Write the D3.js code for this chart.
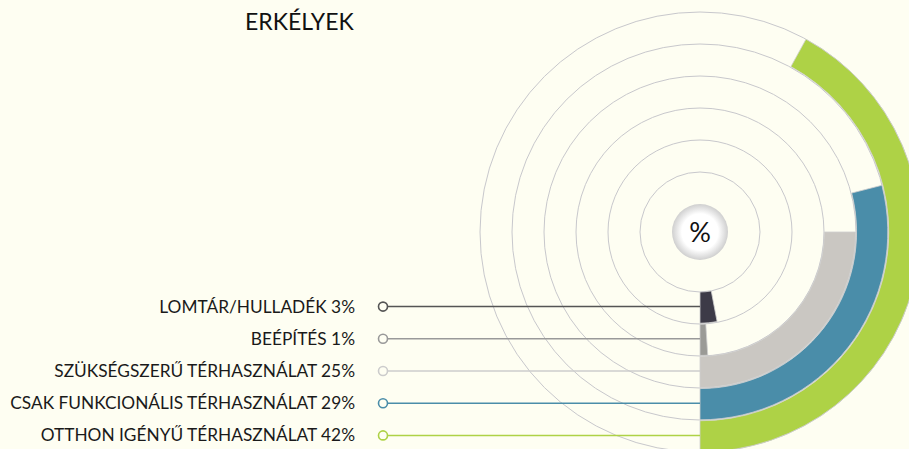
<!DOCTYPE html>
<html>
<head>
<meta charset="utf-8">
<script src="https://cdn.jsdelivr.net/npm/d3@7"></script>
<style>
  html, body { margin: 0; padding: 0; background: #fefef2; }
  svg { display: block; }
  .label { font-family: Lato, "Open Sans", sans-serif; font-size: 17.3px; fill: #1a1a1a; }
  .title { font-family: Lato, "Open Sans", sans-serif; font-size: 23px; fill: #111; }
</style>
</head>
<body>
<div id="chart"></div>
<script>
var svgWidth = 909;
var svgHeight = 449;

// data, inner ring first
var categories = ["LOMTÁR/HULLADÉK", "BEÉPÍTÉS", "SZÜKSÉGSZERŰ TÉRHASZNÁLAT",
  "CSAK FUNKCIONÁLIS TÉRHASZNÁLAT", "OTTHON IGÉNYŰ TÉRHASZNÁLAT"];
var values = [3, 1, 25, 29, 42];
var colors = ["#3d3b47", "#9a9a96", "#cac7c2", "#4a8da9", "#aed246"];
var markerColors = ["#555", "#999", "#ccc", "#4a8da9", "#aed246"];
var gridRings = [60, 92, 124, 156, 188, 220];

var cx = 700, cy = 232;

var svg = d3.select("#chart")
  .append("svg")
  .attr("width", svgWidth)
  .attr("height", svgHeight);

svg.append("rect")
  .attr("width", svgWidth)
  .attr("height", svgHeight)
  .attr("fill", "#fefef2");

var defs = svg.append("defs");
var grad = defs.append("radialGradient").attr("id", "centerGrad");
grad.append("stop").attr("offset", "65%").attr("stop-color", "#ffffff");
grad.append("stop").attr("offset", "100%").attr("stop-color", "#cfcfcf");

var chart = svg.append("g")
  .attr("transform", `translate(${cx}, ${cy})`);

// scales
var ringScale = d3.scaleBand()
  .domain(categories)
  .range([60, 220])
  .paddingInner(0.03)
  .paddingOuter(0);

var angleScale = d3.scaleLinear()
  .domain([0, 100])
  .range([Math.PI, -Math.PI]);

// grid circles
chart.selectAll(".grid")
  .data(gridRings)
  .enter()
  .append("circle")
  .attr("class", "grid")
  .attr("r", d => d)
  .attr("fill", "none")
  .attr("stroke", "#c8c8cc")
  .attr("stroke-width", 1);

// bars
var arc = d3.arc()
  .innerRadius(d => ringScale(d.cat))
  .outerRadius(d => ringScale(d.cat) + ringScale.bandwidth())
  .startAngle(d => angleScale(d.value))
  .endAngle(Math.PI);

var rows = categories.map((c, i) => ({cat: c, value: values[i], color: colors[i], marker: markerColors[i]}));

chart.selectAll(".bar")
  .data(rows)
  .enter()
  .append("path")
  .attr("class", "bar")
  .attr("d", arc)
  .attr("fill", d => d.color)
  .attr("stroke", "#cfcfcf")
  .attr("stroke-width", 0.8);

// legend lines
var yMid = d => ringScale(d.cat) + ringScale.bandwidth() / 2 - 1;
var markerX = 383 - cx;

chart.selectAll(".lead")
  .data(rows)
  .enter()
  .append("line")
  .attr("class", "lead")
  .attr("x1", markerX)
  .attr("x2", 0)
  .attr("y1", yMid)
  .attr("y2", yMid)
  .attr("stroke", d => d.marker)
  .attr("stroke-width", 1.5);

chart.selectAll(".marker")
  .data(rows)
  .enter()
  .append("circle")
  .attr("class", "marker")
  .attr("cx", markerX)
  .attr("cy", yMid)
  .attr("r", 4.5)
  .attr("fill", "#fefef2")
  .attr("stroke", d => d.marker)
  .attr("stroke-width", 1.6);

chart.selectAll(".label")
  .data(rows)
  .enter()
  .append("text")
  .attr("class", "label")
  .attr("x", 355 - cx)
  .attr("y", yMid)
  .attr("dy", "0.35em")
  .style("text-anchor", "end")
  .text(d => `${d.cat} ${d.value}%`);

// center badge
chart.append("circle")
  .attr("r", 28)
  .attr("fill", "url(#centerGrad)");

chart.append("text")
  .attr("y", 1)
  .attr("dy", "0.35em")
  .style("text-anchor", "middle")
  .style("font-family", "Lato, 'Open Sans', sans-serif")
  .style("font-size", "27px")
  .style("fill", "#111")
  .text("%");

svg.append("text")
  .attr("class", "title")
  .attr("x", 245)
  .attr("y", 30)
  .text("ERKÉLYEK");
</script>
</body>
</html>
